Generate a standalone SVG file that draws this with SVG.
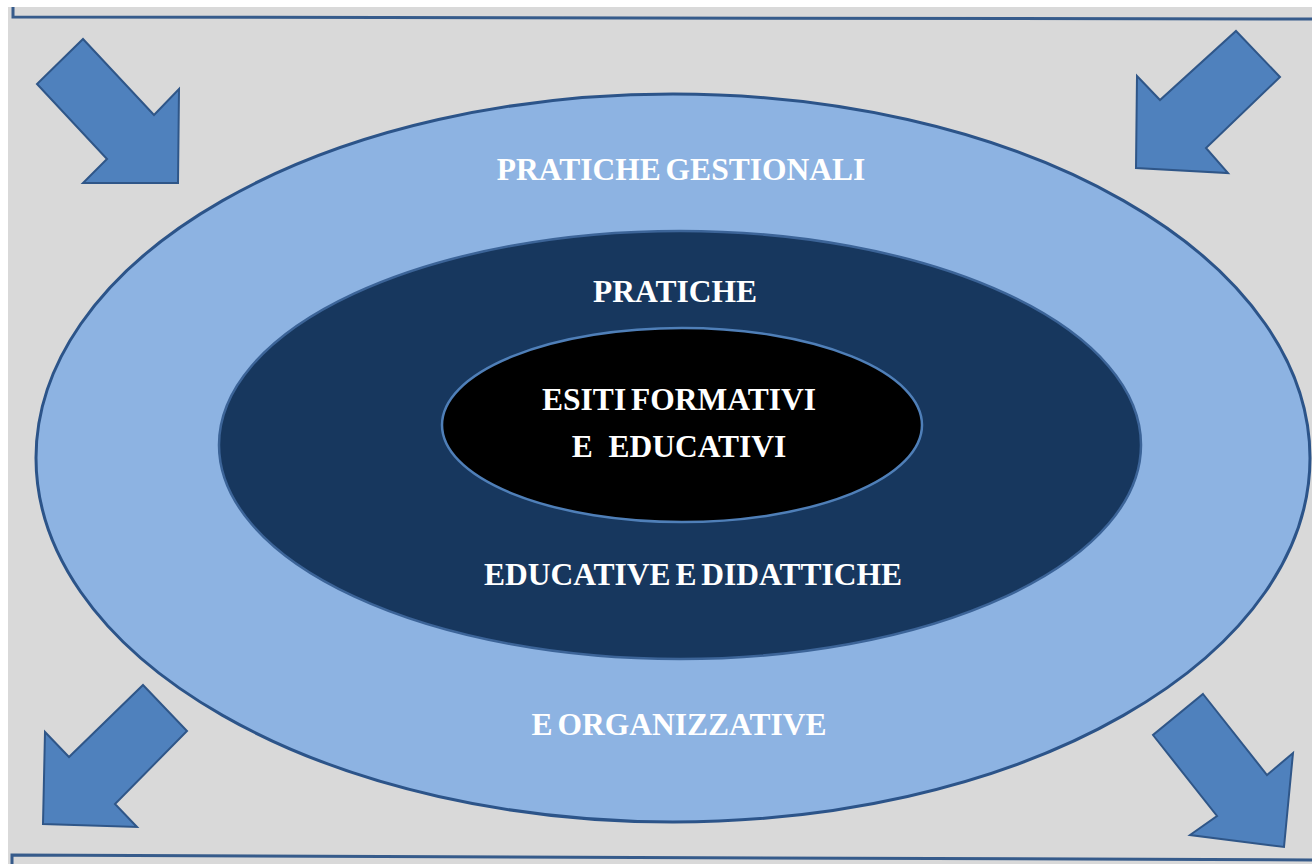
<svg xmlns="http://www.w3.org/2000/svg" width="1312" height="864" viewBox="0 0 1312 864">
  <style>
    .frame { fill: none; stroke: #365b8b; stroke-width: 3; }
    .arrow { fill: #4f81bd; stroke: #2f5688; stroke-width: 2; stroke-linejoin: miter; }
    .label { font-family: "Liberation Serif", "Times New Roman", serif; font-weight: bold; font-size: 31.5px; fill: #ffffff; text-anchor: middle; word-spacing: -3px; }
  </style>

  <!-- page and canvas -->
  <rect x="0" y="0" width="1312" height="864" fill="#ffffff"/>
  <rect x="8" y="7" width="1304" height="857" fill="#d9d9d9"/>

  <!-- edges of the neighbouring frames above and below -->
  <g id="frames">
    <path class="frame" d="M13,7 L13,17 L1312,19"/>
    <path class="frame" d="M12,864 L12,855 L1312,860"/>
  </g>

  <!-- outer ring: management and organisational practices -->
  <g id="outer">
    <ellipse cx="673" cy="458" rx="637" ry="364" fill="#8db3e2" stroke="#2c5489" stroke-width="3"/>
    <text class="label" x="681" y="180">PRATICHE GESTIONALI</text>
    <text class="label" x="679" y="735">E ORGANIZZATIVE</text>
  </g>

  <!-- middle ring: educational and teaching practices -->
  <g id="middle">
    <ellipse cx="680" cy="445" rx="461" ry="214" fill="#17375e" stroke="#3c6498" stroke-width="2.5"/>
    <text class="label" x="675" y="302">PRATICHE</text>
    <text class="label" x="693" y="585">EDUCATIVE E DIDATTICHE</text>
  </g>

  <!-- core: outcomes -->
  <g id="core">
    <ellipse cx="682" cy="425" rx="240" ry="97" fill="#000000" stroke="#4f7fb8" stroke-width="2.5"/>
    <text class="label" x="679" y="410">ESITI FORMATIVI</text>
    <text class="label" x="679" y="457" style="word-spacing: 0" xml:space="preserve">E  EDUCATIVI</text>
  </g>

  <!-- corner arrows -->
  <g id="arrows">
    <polygon class="arrow" points="83,39 154,115 179,89 178,183 83,183 107,159 37,84"/>
    <polygon class="arrow" points="1236,31 1280,77 1206,148 1228,173 1136,168 1137,76 1160,100"/>
    <polygon class="arrow" points="143,685 187,731 115,804 137,827 43,824 45,732 69,757"/>
    <polygon class="arrow" points="1203,694 1267,775 1293,753 1284,847 1190,835 1217,816 1153,735"/>
  </g>
</svg>
